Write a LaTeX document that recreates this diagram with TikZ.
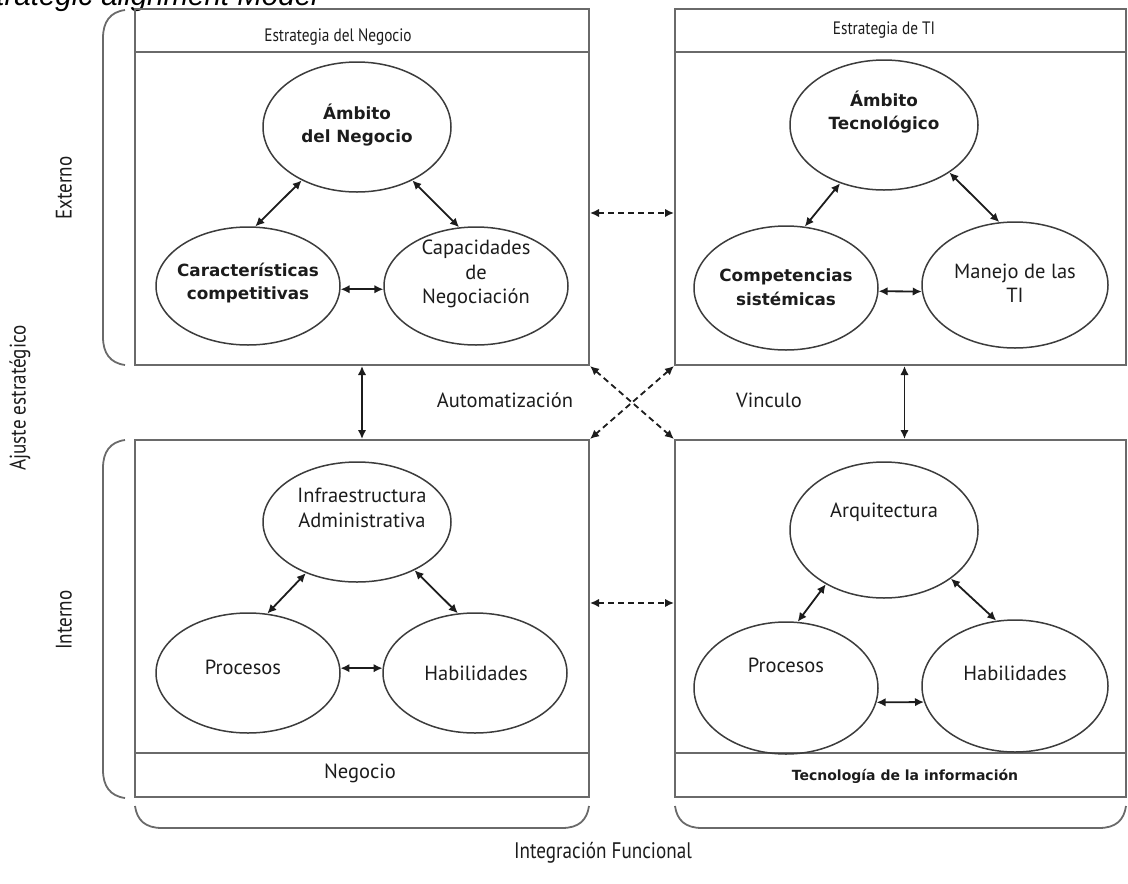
\documentclass[tikz,border=0pt]{standalone}
\usepackage{fontspec}
\setmainfont{PT Sans}
\newfontfamily\bfont{DejaVu Sans}
\newfontfamily\tfont{Liberation Sans}
\newfontfamily\cfont{PT Sans}[FakeStretch=0.85]
\usetikzlibrary{shapes.geometric,arrows.meta}
\definecolor{boxgray}{HTML}{6A6A6A}
\definecolor{ellgray}{HTML}{3C3C3C}
\definecolor{ink}{HTML}{1C1C1C}
\begin{document}
\begin{tikzpicture}[x=1pt,y=-1pt,
  line/.style={draw=boxgray, line width=2pt},
  box/.style={line, rectangle, inner sep=0pt},
  ell/.style={draw=ellgray, line width=1.5pt, ellipse, inner sep=0pt},
  txt/.style={align=center, text=ink, inner sep=0pt},
  bt/.style={txt, font=\bfont\bfseries\fontsize{16.8}{23.5}\selectfont},
  rt/.style={txt, font=\fontsize{20.5}{24.5}\selectfont},
  ht/.style={txt, font=\cfont\fontsize{18}{20}\selectfont},
  dbl/.style={{Latex[length=9pt,width=8.5pt]}-{Latex[length=9pt,width=8.5pt]}, line width=1.8pt, draw=ink},
  dsh/.style={dbl, dash pattern=on 6pt off 4pt},
  brace/.style={draw=boxgray, line width=1.8pt},
  lbl/.style={txt, font=\cfont\fontsize{22.5}{24}\selectfont}
]
\useasboundingbox (0,0) rectangle (1128,884);

% title (clipped at the top, as in the reference)
\node[font=\tfont\itshape\fontsize{29.5}{31}\selectfont, anchor=base east, inner sep=0pt] (title) at (318,5) {Strategic alignment Model};

% quadrant boxes
\node[box, minimum width=454pt, minimum height=356pt] (tl) at (362,187) {};
\node[box, minimum width=451pt, minimum height=356pt] (tr) at (900.5,187) {};
\node[box, minimum width=454pt, minimum height=357pt] (bl) at (362,618.5) {};
\node[box, minimum width=451pt, minimum height=357pt] (br) at (900.5,618.5) {};
\draw[line] (tl.west |- 0,52) -- (tl.east |- 0,52);
\draw[line] (tr.west |- 0,52) -- (tr.east |- 0,52);
\draw[line] (bl.west |- 0,753) -- (bl.east |- 0,753);
\draw[line] (br.west |- 0,753) -- (br.east |- 0,753);

\node[ht] (h1) at (338,37) {Estrategia del Negocio};
\node[ht] (h2) at (884,30) {Estrategia de TI};
\node[rt] (f1) at (360,773) {Negocio};
\node[txt, font=\bfont\bfseries\fontsize{14}{16}\selectfont] (f2) at (905,776) {Tecnología de la información};

% top-left ellipses
\node[ell, minimum width=188pt, minimum height=130pt] (amb) at (357,127) {};
\node[ell, minimum width=184pt, minimum height=118pt] (car) at (248,286) {};
\node[ell, minimum width=184pt, minimum height=118pt] (cap) at (476,286) {};
\node[bt] (ambt) at (357,125) {Ámbito\\del Negocio};
\node[bt] (cart) at (248,283) {Características\\competitivas};
\node[rt] (capt) at (476,274) {Capacidades\\de\\Negociación};
\draw[dbl] (amb.224) -- (car.83);
\draw[dbl] (amb.316) -- (cap.106);
\draw[dbl] (car.358) -- (cap.182);

% top-right ellipses
\node[ell, minimum width=188pt, minimum height=130pt] (abt) at (884,125) {};
\node[ell, minimum width=184pt, minimum height=124pt] (com) at (786,288) {};
\node[ell, minimum width=186pt, minimum height=126pt] (man) at (1015,285) {};
\node[bt] (abtt) at (884,112) {Ámbito\\Tecnológico};
\node[bt] (comt) at (786,287) {Competencias\\sistémicas};
\node[rt] (mant) at (1015,283) {Manejo de las\\TI};
\draw[dbl] (abt.233) -- (com.73);
\draw[dbl] (abt.324) -- (man.104);
\draw[dbl] (com.358) -- (man.184);

% bottom-left ellipses
\node[ell, minimum width=188pt, minimum height=120pt] (inf) at (357,522) {};
\node[ell, minimum width=184pt, minimum height=120pt] (pro) at (248,673) {};
\node[ell, minimum width=184pt, minimum height=120pt] (hab) at (475,673) {};
\node[rt] (inft) at (362,508) {Infraestructura\\Administrativa};
\node[rt] (prot) at (243,667) {Procesos};
\node[rt] (habt) at (476,673) {Habilidades};
\draw[dbl] (inf.225) -- (pro.72);
\draw[dbl] (inf.320) -- (hab.106);
\draw[dbl] (pro.3) -- (hab.177);

% bottom-right ellipses
\node[ell, minimum width=188pt, minimum height=136pt] (arq) at (884,530) {};
\node[ell, minimum width=184pt, minimum height=132pt] (pr2) at (786,688) {};
\node[ell, minimum width=186pt, minimum height=132pt] (hb2) at (1015,686) {};
\node[rt] (arqt) at (884,512) {Arquitectura};
\node[rt] (pr2t) at (786,665) {Procesos};
\node[rt] (hb2t) at (1015,673) {Habilidades};
\draw[dbl] (arq.223) -- (pr2.80);
\draw[dbl] (arq.324) -- (hb2.106);
\draw[dbl] (pr2.351) -- (hb2.190);

% connectors between quadrants
\draw[dsh] (tl.east |- 0,213) -- (tr.west |- 0,213);
\draw[dsh] (bl.east |- 0,603) -- (br.west |- 0,603);
\draw[dsh] (tl.south east) -- (br.north west);
\draw[dsh] (tr.south west) -- (bl.north east);
\draw[dbl] (tl.south) -- (bl.north);
\draw[dbl] ([xshift=4pt]tr.south) -- ([xshift=4pt]br.north);
\node[rt] (auto) at (505,400) {Automatización};
\node[rt] (vinc) at (769,400) {Vinculo};

% braces
\draw[brace] (125,10) .. controls (110,12) and (103,22) .. (103,38) -- (103,337) .. controls (103,353) and (110,363) .. (125,365);
\draw[brace] (125,440) .. controls (110,442) and (103,452) .. (103,468) -- (103,770) .. controls (103,786) and (110,796) .. (125,798);
\draw[brace] (135,806) .. controls (137,820) and (145,828) .. (162,828) -- (562,828) .. controls (579,828) and (587,820) .. (589,806);
\draw[brace] (675,806) .. controls (677,820) and (685,828) .. (702,828) -- (1099,828) .. controls (1116,828) and (1124,820) .. (1126,806);

\node[lbl, rotate=90] (ext) at (64,188) {Externo};
\node[lbl, rotate=90] (aju) at (20,398) {Ajuste estratégico};
\node[lbl, rotate=90] (int) at (64,620) {Interno};
\node[lbl] (intf) at (603,853) {Integración Funcional};
\end{tikzpicture}
\end{document}
